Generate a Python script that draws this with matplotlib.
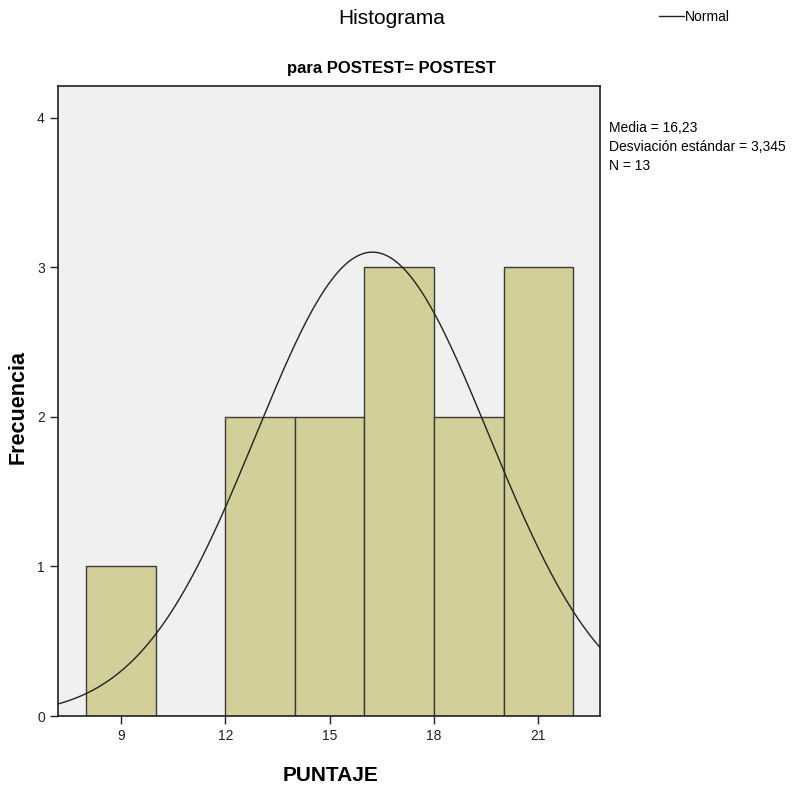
import matplotlib
matplotlib.use("Agg")
import matplotlib.pyplot as plt
import numpy as np
from matplotlib.lines import Line2D

# histogram data (bins of width 2)
bin_edges = [8, 10, 12, 14, 16, 18, 20, 22]
counts = [1, 0, 2, 2, 3, 2, 3]
media = 16.23
desv = 3.345
n = 13
x_ticks = [9, 12, 15, 18, 21]
y_ticks = [0, 1, 2, 3, 4]

plt.rcParams["font.family"] = ["Liberation Sans", "DejaVu Sans"]

fig = plt.figure(figsize=(7.95, 7.91), dpi=100)
ax = fig.add_axes([0.073, 0.0948, 0.682, 0.7962])
ax.set_facecolor("#f0f0f0")

widths = np.diff(bin_edges)
ax.bar(bin_edges[:-1], counts, width=widths, align="edge",
       color="#d3cf98", edgecolor="#3a3a3a", linewidth=1.0)

xs = np.linspace(7.19, 22.78, 400)
pdf = np.exp(-0.5 * ((xs - media) / desv) ** 2) / (desv * np.sqrt(2 * np.pi))
ax.plot(xs, n * widths[0] * pdf, color="#222222", linewidth=1.0)

ax.set_xlim(7.19, 22.78)
ax.set_ylim(0, 4.21)
ax.set_xticks(x_ticks)
ax.set_yticks(y_ticks)
ax.tick_params(direction="out", length=6, width=1, labelsize=10, colors="#222222")
for s in ax.spines.values():
    s.set_linewidth(1.2)
    s.set_color("#222222")

ax.set_xlabel("PUNTAJE", fontsize=15, fontweight="bold")
ax.xaxis.set_label_coords(0.502, -0.080)
ax.set_ylabel("Frecuencia", fontsize=15.5, fontweight="bold")
ax.yaxis.set_label_coords(-0.055, 0.49)

fig.text(0.493, 0.977, "Histograma", ha="center", va="center", fontsize=15)
fig.text(0.493, 0.914, "para POSTEST= POSTEST", ha="center", va="center",
         fontsize=12, fontweight="bold")
fig.text(0.766, 0.847, f"Media = 16,23\nDesviación estándar = 3,345\nN = {n}",
         ha="left", va="top", fontsize=10, linespacing=1.45)

handle = Line2D([], [], color="#222222", linewidth=1.0)
fig.legend([handle], ["Normal"], loc="center left", bbox_to_anchor=(0.82, 0.979),
           frameon=False, fontsize=10, handlelength=1.8, handletextpad=0.1,
           borderpad=0)

fig.savefig("out.png", dpi=100)
